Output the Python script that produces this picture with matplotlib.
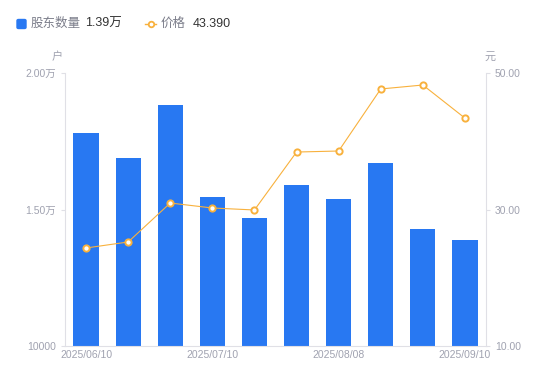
import matplotlib.pyplot as plt
from matplotlib.lines import Line2D
from matplotlib.patches import FancyBboxPatch

plt.rcParams['font.family'] = ['Liberation Sans', 'Noto Sans CJK SC', 'DejaVu Sans']

dates = ['2025/06/10', '2025/06/20', '2025/06/30', '2025/07/10', '2025/07/18',
         '2025/07/31', '2025/08/08', '2025/08/20', '2025/08/31', '2025/09/10']
holders = [17800, 16890, 18830, 15460, 14690, 15900, 15380, 16700, 14290, 13880]
prices = [24.36, 25.24, 30.95, 30.22, 29.93, 38.42, 38.57, 47.66, 48.24, 43.39]
shown_dates = [0, 3, 6, 9]

blue = '#2878f2'
orange = '#f8b13d'
grey = '#a0a2b0'
axis_grey = '#e0e0e6'

fig = plt.figure(figsize=(5.5, 3.81), dpi=100)
ax = fig.add_axes([65 / 550, 1 - 346 / 381, 421 / 550, 273 / 381])
ax2 = ax.twinx()

x = list(range(len(dates)))
ax.bar(x, holders, width=0.6, color=blue, zorder=2)
ax.set_xlim(-0.5, len(dates) - 0.5)
ax.set_ylim(10000, 20000)
ax.set_yticks([10000, 15000, 20000])
ax.set_yticklabels(['10000', '1.50万', '2.00万'])

ax2.plot(x, prices, color=orange, lw=0.8, marker='o', ms=4.5,
         mfc='white', mec=orange, mew=1.4, zorder=3)
ax2.set_ylim(10, 50)
ax2.set_yticks([10, 30, 50])
ax2.set_yticklabels(['10.00', '30.00', '50.00'])

ax.set_xticks([x[i] for i in shown_dates])
ax.set_xticklabels([dates[i] for i in shown_dates])

for a in (ax, ax2):
    for s in a.spines.values():
        s.set_visible(False)
    a.tick_params(colors=grey, labelsize=7.5, length=3, width=0.8, color=axis_grey)
ax.tick_params(axis='x', length=0, pad=3)
ax.spines['left'].set_visible(True)
ax.spines['left'].set_color(axis_grey)
ax.spines['bottom'].set_visible(True)
ax.spines['bottom'].set_color(axis_grey)
ax2.spines['right'].set_visible(True)
ax2.spines['right'].set_color(axis_grey)

fig.text(57 / 550, 1 - 57 / 381, '户', color=grey, fontsize=8, ha='center', va='center')
fig.text(490 / 550, 1 - 57 / 381, '元', color=grey, fontsize=8, ha='center', va='center')

# legend
fig.patches.append(FancyBboxPatch((17 / 550, 1 - 28.5 / 381), 9 / 550, 9 / 381,
                                  boxstyle='round,pad=0,rounding_size=0.003',
                                  transform=fig.transFigure, color=blue, figure=fig))
fig.text(31 / 550, 1 - 24 / 381, '股东数量', color='#7b7d8a', fontsize=9, va='center')
fig.text(85 / 550, 1 - 24 / 381, '%.2f万' % (holders[-1] / 10000), color='#333333', fontsize=9, va='center')
fig.add_artist(Line2D([145 / 550, 156 / 550], [1 - 24 / 381] * 2, color=orange, lw=1,
                      transform=fig.transFigure))
fig.add_artist(Line2D([150.5 / 550], [1 - 24 / 381], color=orange, marker='o', ms=4,
                      mfc='white', mew=1.3, transform=fig.transFigure))
fig.text(161 / 550, 1 - 24 / 381, '价格', color='#7b7d8a', fontsize=9, va='center')
fig.text(193 / 550, 1 - 24 / 381, '%.3f' % prices[-1], color='#333333', fontsize=9, va='center')

fig.savefig('out.png', dpi=100)
